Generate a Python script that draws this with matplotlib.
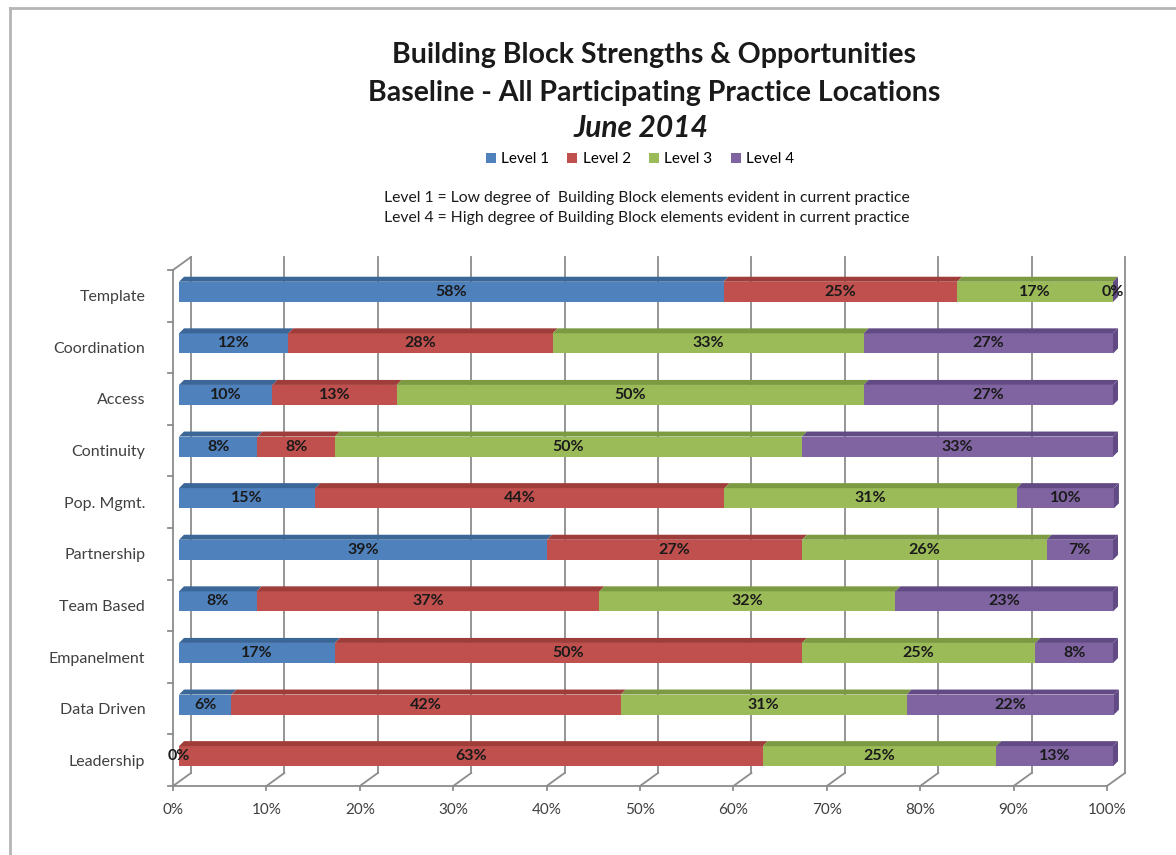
#!/usr/bin/env python3

import matplotlib.pyplot as plt
import matplotlib.transforms as mtransforms
from matplotlib.patches import Polygon, Patch
from matplotlib.lines import Line2D

# Data (percent of responses per level)
categories = ["Template", "Coordination", "Access", "Continuity", "Pop. Mgmt.",
              "Partnership", "Team Based", "Empanelment", "Data Driven", "Leadership"]
level_1 = [58.3, 11.7, 10.0, 8.4, 14.6, 39.4, 8.3, 16.7, 5.6, 0.0]
level_2 = [25.0, 28.3, 13.3, 8.3, 43.8, 27.3, 36.7, 50.0, 41.7, 62.5]
level_3 = [16.7, 33.3, 50.0, 50.0, 31.3, 26.2, 31.7, 25.0, 30.6, 25.0]
level_4 = [0.0, 26.7, 26.7, 33.3, 10.4, 7.1, 23.3, 8.3, 22.2, 12.5]
series_names = ["Level 1", "Level 2", "Level 3", "Level 4"]
x_ticks = [0, 10, 20, 30, 40, 50, 60, 70, 80, 90, 100]

front_colors = ["#4F81BD", "#C0504D", "#9BBB59", "#8064A2"]
top_colors = ["#3B6698", "#9E3D3A", "#7C9A42", "#624A84"]

plt.rcParams["font.family"] = ["Lato", "DejaVu Sans"]

fig = plt.figure(figsize=(11.76, 8.55), dpi=100)
ax = fig.add_axes([173 / 1176, 69 / 855, 934 / 1176, 516 / 855])
ax.set_xlim(0, 100)
ax.set_ylim(9.5, -0.5)
for s in ax.spines.values():
    s.set_visible(False)

# pixel -> data unit factors
px_x = 100 / 934
px_y = 10 / 516

grid_col = "#8c8c8c"
back_dx, back_dy = 18 * px_x, -13 * px_y

# back wall grid lines + floor diagonals
for t in x_ticks:
    ax.add_line(Line2D([t + back_dx, t + back_dx], [9.5 + back_dy, -0.5 + back_dy],
                       color=grid_col, lw=1.3, clip_on=False, zorder=1))
    ax.add_line(Line2D([t, t + back_dx], [9.5, 9.5 + back_dy],
                       color=grid_col, lw=1.3, clip_on=False, zorder=1))
    ax.add_line(Line2D([t, t], [9.5, 9.5 + 4 * px_y],
                       color=grid_col, lw=1.3, clip_on=False, zorder=1))
# left wall and floor front edge
ax.add_line(Line2D([0, 0], [9.5, -0.5], color=grid_col, lw=1.3, clip_on=False))
ax.add_line(Line2D([0, back_dx], [-0.5, -0.5 + back_dy], color=grid_col, lw=1.3, clip_on=False))
ax.add_line(Line2D([0, 100], [9.5, 9.5], color=grid_col, lw=1.3, clip_on=False))
for k in range(11):
    yb = -0.5 + k
    ax.add_line(Line2D([0, -5 * px_x], [yb, yb], color=grid_col, lw=1.3, clip_on=False))

# bars: front face shifted into the middle depth
shift = mtransforms.ScaledTranslation(6 / 100, 4 / 100, fig.dpi_scale_trans)
bar_trans = ax.transData + shift
bar_h = 0.39
top_dx, top_dy = 5 * px_x, -5 * px_y

series = [level_1, level_2, level_3, level_4]
for i, cat in enumerate(categories):
    left = 0.0
    for k, vals in enumerate(series):
        v = vals[i]
        ax.barh(i, v, left=left, height=bar_h, color=front_colors[k],
                transform=bar_trans, zorder=3, clip_on=False)
        # top face
        y0 = i - bar_h / 2
        top = Polygon([(left, y0), (left + v, y0), (left + v + top_dx, y0 + top_dy),
                       (left + top_dx, y0 + top_dy)], closed=True,
                      facecolor=top_colors[k], edgecolor="none",
                      transform=bar_trans, zorder=3, clip_on=False)
        ax.add_patch(top)
        ax.text(left + v / 2, i, f"{int(vals[i] + 0.5)}%", ha="center", va="center",
                fontsize=11.5, fontweight="bold", color="#1a1a1a",
                transform=bar_trans, zorder=5)
        left += v
    # right side face (Level 4 end cap)
    side = Polygon([(left, i - bar_h / 2), (left + top_dx, i - bar_h / 2 + top_dy),
                    (left + top_dx, i + bar_h / 2 + top_dy), (left, i + bar_h / 2)],
                   closed=True, facecolor=top_colors[3], edgecolor="none",
                   transform=bar_trans, zorder=3, clip_on=False)
    ax.add_patch(side)

ax.set_xticks(x_ticks)
ax.set_xticklabels([f"{t}%" for t in x_ticks], fontsize=11, color="#404040")
ax.set_yticks(range(len(categories)))
ax.set_yticklabels(categories, fontsize=11.5, color="#404040")
ax.tick_params(axis="x", length=0, pad=12)
ax.tick_params(axis="y", length=0, pad=20)

# titles
fig.text(654 / 1176, 1 - 55 / 855, "Building Block Strengths & Opportunities",
         ha="center", va="center", fontsize=20.5, fontweight="bold", color="#1a1a1a")
fig.text(654 / 1176, 1 - 93 / 855, "Baseline - All Participating Practice Locations",
         ha="center", va="center", fontsize=20.5, fontweight="bold", color="#1a1a1a")
fig.text(641 / 1176, 1 - 128 / 855, "June 2014",
         ha="center", va="center", fontsize=21.5, fontweight="bold", style="italic",
         color="#1a1a1a")

handles = [Patch(facecolor=c, edgecolor="none") for c in front_colors]
fig.legend(handles, series_names, loc="center", bbox_to_anchor=(640 / 1176, 1 - 159 / 855),
           ncol=4, frameon=False, fontsize=11, handlelength=0.65, handleheight=0.65,
           handletextpad=0.35, columnspacing=1.2)

fig.text(647 / 1176, 1 - 198 / 855,
         "Level 1 = Low degree of  Building Block elements evident in current practice",
         ha="center", va="center", fontsize=11.3, color="#1a1a1a")
fig.text(647 / 1176, 1 - 218 / 855,
         "Level 4 = High degree of Building Block elements evident in current practice",
         ha="center", va="center", fontsize=11.3, color="#1a1a1a")

# chart frame (left and top edges)
fig.add_artist(Line2D([10 / 1176, 10 / 1176], [0, 1 - 8 / 855], color="#b4b4b4", lw=2,
                      transform=fig.transFigure))
fig.add_artist(Line2D([10 / 1176, 1], [1 - 8 / 855, 1 - 8 / 855], color="#b4b4b4", lw=2,
                      transform=fig.transFigure))

fig.savefig("out.png", dpi=100)
